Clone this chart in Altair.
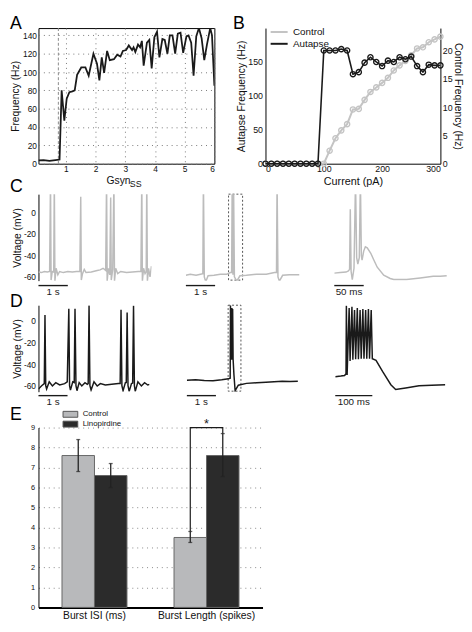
import altair as alt
import pandas as pd

FONT = "Liberation Sans"
INK = "#1a1a1a"
TRACE_GRAY = "#bcbcbc"
CTRL_GRAY = "#c4c4c4"

# ---------------- Panel A : frequency vs Gsyn_SS ----------------
gsyn_ss = [0.08, 0.25, 0.45, 0.65, 0.79, 0.86, 0.95, 1.03, 1.12, 1.22, 1.30, 1.38, 1.52, 1.66,
           1.77, 1.93, 2.05, 2.13, 2.21, 2.29, 2.39, 2.48, 2.62, 2.73, 2.84, 2.92, 3.03, 3.12,
           3.23, 3.28, 3.34, 3.43, 3.50, 3.56, 3.62, 3.73, 3.81, 3.89, 3.98, 4.07, 4.15, 4.25,
           4.33, 4.42, 4.50, 4.59, 4.68, 4.77, 4.86, 4.95, 5.06, 5.13, 5.22, 5.30, 5.39, 5.48,
           5.57, 5.66, 5.75, 5.86, 5.92, 6.00]
freq_hz = [3.5, 4, 3, 4, 4.5, 80, 47, 71, 78, 79, 80, 97, 105, 105,
           96, 120, 109, 91, 116, 99, 123, 113, 114, 119, 117, 123, 124, 129,
           124, 127, 122, 130, 127, 134, 107, 132, 135, 104, 138, 144, 116, 136,
           135, 120, 140, 140, 120, 142, 143, 121, 139, 140, 132, 96, 139, 148,
           137, 113, 130, 148, 140, 85]
gsyn_threshold = [0.75]

# ---------------- Panel B : frequency vs current ----------------
current_pa = [0, 10, 20, 30, 40, 50, 60, 70, 80, 90, 100, 110, 120, 130, 140, 150, 160,
              170, 180, 190, 200, 210, 220, 230, 240, 250, 260, 270, 280, 290, 300]
autapse_hz = [0, 0, 0, 0, 0, 0, 0, 0, 0, 0, 167, 167, 167, 169, 167, 132, 135,
              149, 157, 150, 144, 152, 150, 157, 154, 158, 144, 135, 146, 145, 145]
control_hz = [0, 0, 0, 0, 0, 0, 0, 0, 0, 0, 0, 2.3, 4.5, 5.9, 7.0, 9.6, 9.7,
              11.3, 12.7, 13.5, 14.3, 15.2, 16.5, 17.4, 18.2, 19.2, 20.4, 20.6, 21.5, 22.0, 22.5]

# ---------------- Panel C : control voltage traces ----------------
c1_t = [0.00, 0.10, 0.20, 0.30, 0.38, 0.41, 0.43, 0.47, 0.52, 0.54, 0.56, 0.60, 0.66, 0.72, 0.85,
        1.00, 1.15, 1.30, 1.41, 1.44, 1.46, 1.50, 1.56, 1.62, 1.80, 2.00, 2.10, 2.20, 2.29, 2.32,
        2.34, 2.38, 2.43, 2.46, 2.48, 2.53, 2.57, 2.59, 2.63, 2.70, 2.80, 3.00, 3.20, 3.40, 3.49,
        3.52, 3.54, 3.58, 3.63, 3.67, 3.69, 3.71, 3.75, 3.80, 3.85]
c1_v = [-55.5, -56, -55, -55.5, -55, 30, -63, -55, -55.5, 30, -64, -52, -58, -55, -56,
        -55, -55.5, -55, -55, 14.5, -63, -57, -53, -56, -55.5, -54, -53.5, -52, -54, 30,
        -64, -52, -58, 14, -63, -53, 30, -64, -52, -57, -55, -56, -55.5, -55, -55,
        30, -64, -52, -57, -55, 30, -64, -52, -60, -50]
c2_t = [0.00, 0.15, 0.35, 0.50, 0.58, 0.60, 0.63, 0.68, 0.76, 0.96, 1.18, 1.40, 1.52, 1.565, 1.585,
        1.61, 1.63, 1.66, 1.74, 1.85, 2.07, 2.41, 2.75, 3.03, 3.10, 3.12, 3.15, 3.20, 3.31, 3.54, 3.88]
c2_v = [-58.5, -57.5, -58.5, -57.5, -57, 30, -60, -64.5, -59, -58.5, -57.5, -57.5, -56, -56, 30,
        -58, 30, -60, -64, -59, -58.5, -57.5, -57.5, -56, -56, 30, -60, -64, -58.5, -58, -58]
c2_box_t = [1.46, 1.94]
c3_t = [0, 10, 20, 24, 26, 27.2, 28.6, 30.6, 33.5, 36.1, 38, 40, 42.5, 44.4, 46,
        47.2, 50, 52.8, 56, 62, 67, 73, 84, 95, 101, 123, 146, 168, 180, 191]
c3_v = [-56.5, -56, -55.5, -54.5, -53, 3, -55, -62.5, -52, 30, -42, -48, -42, 30, -40,
        -44.5, -36, -32, -33, -38, -44, -51, -58.5, -61.5, -62.5, -62.5, -61, -59.5, -59.5, -59]

# ---------------- Panel D : autapse voltage traces ----------------
d1_t = [0.00, 0.11, 0.20, 0.224, 0.25, 0.28, 0.37, 0.48, 0.595, 0.73, 0.90, 0.99, 1.044, 1.07, 1.10,
        1.18, 1.23, 1.257, 1.29, 1.325, 1.40, 1.49, 1.60, 1.68, 1.71, 1.74, 1.77, 1.81, 1.91, 2.02,
        2.13, 2.30, 2.52, 2.75, 2.81, 2.84, 2.87, 2.91, 2.99, 3.02, 3.05, 3.08, 3.12, 3.20, 3.24,
        3.27, 3.30, 3.33, 3.42, 3.54, 3.65, 3.76, 3.82]
d1_v = [-63, -60, -58, 5.4, -60, -63, -56.3, -60.2, -57.1, -59.3, -58, -56.3, 11.3, -60, -64,
        -56.3, -57, 11.3, -60, -64.6, -57.1, -60.2, -57.1, -58.7, -58, 14.3, -60, -64, -56.3, -60.2,
        -58, -59.3, -58.7, -58, -58, 10.4, -60, -64.6, -57.1, -57, 7.7, -60, -65.2, -58, -57.5,
        14, -60, -65.2, -56.3, -60.2, -57.1, -59.3, -58.7]
d2_t = [0.00, 0.30, 0.60, 0.90, 1.20, 1.43, 1.49, 1.50, 1.515, 1.525, 1.54, 1.55, 1.565, 1.575, 1.59,
        1.62, 1.66, 1.77, 2.05, 2.40, 2.72, 3.00, 3.28, 3.55, 3.82]
d2_v = [-55, -54.5, -55.2, -55.4, -54.5, -53.6, -53, 14.5, -36, 12, -36, 12, -36, 11, -35,
        -50, -64.6, -59.5, -57.8, -57.2, -56.7, -56.3, -55.9, -56, -55.9]
d2_box_t = [1.42, 1.86]
d3_t = [0, 15, 25, 29, 30, 32, 37.5, 40, 45, 47.5, 52, 55, 59.5, 62.5, 67, 70, 74.5, 77.5, 82, 85,
        89.5, 92.5, 97, 100, 110, 128, 150, 163, 190, 226, 260, 297]
d3_v = [-51.6, -51, -50.5, -49, 14, -50, 12, -37, 13, -36, 10, -35.5, 12, -35.5, 10, -35, 11, -35, 10, -35,
        11, -35, 10, -35, -36.5, -47, -59, -63.5, -62, -60, -59.5, -59]

# ---------------- Panel E : burst statistics ----------------
measures = ["Burst ISI (ms)", "Burst ISI (ms)", "Burst Length (spikes)", "Burst Length (spikes)"]
groups = ["Control", "Linopirdine", "Control", "Linopirdine"]
means = [7.6, 6.6, 3.5, 7.6]
err_lo = [6.8, 6.0, 3.25, 6.55]
err_hi = [8.4, 7.2, 3.8, 8.7]
bracket_group = ["Control", "Control", "Linopirdine", "Linopirdine"]
bracket_y = [3.8, 9.0, 9.0, 8.7]
star_y = [9.0]

C_DOMAIN = [-63.5, 17]
D_DOMAIN = [-65.5, 14.5]


def letter(text, dx, dy):
    return alt.Chart(pd.DataFrame({"l": [text]})).mark_text(
        fontSize=18, align="left", baseline="alphabetic", color="black").encode(
        text="l:N", x=alt.value(dx), y=alt.value(dy))


# ---- A ----
HA = 138
dfA = pd.DataFrame({"g": gsyn_ss, "f": freq_hz})
xA = alt.X("g:Q", scale=alt.Scale(domain=[0.08, 6], nice=False, zero=False),
           axis=alt.Axis(values=[1, 2, 3, 4, 5, 6], title="Gsyn", titleFontSize=10.5, titleX=81,
                         titleY=20, titleBaseline="alphabetic", titleAlign="center", titleAnchor="start",
                         labelFontSize=8.5, labelPadding=1, grid=True, gridDash=[1, 4], gridColor="#777",
                         domain=False, ticks=False))
yA = alt.Y("f:Q", scale=alt.Scale(domain=[0, 148], nice=False),
           axis=alt.Axis(values=[0, 20, 40, 60, 80, 100, 120, 140], title="Frequency (Hz)",
                         titleFontSize=10.5, titlePadding=2, labelFontSize=8.5, labelPadding=2,
                         grid=True, gridDash=[1, 4], gridColor="#777", domain=False, ticks=False))
thrA = alt.Chart(pd.DataFrame({"g": gsyn_threshold})).mark_rule(
    color="#8a8a8a", strokeDash=[3, 2], strokeWidth=1).encode(x=xA)
lineA = alt.Chart(dfA).mark_line(color=INK, strokeWidth=1.8, clip=True).encode(x=xA, y=yA)
subA = alt.Chart(pd.DataFrame({"s": ["SS"]})).mark_text(
    fontSize=9, align="left", baseline="alphabetic", color="#111").encode(
    text="s:N", x=alt.value(93), y=alt.value(HA + 24))
A = alt.layer(thrA, lineA, subA, letter("A", -29, 1)).properties(
    width=179, height=HA, view=alt.ViewBackground(stroke="black", strokeWidth=1))

# ---- B ----
dfBc = pd.DataFrame({"current": current_pa, "hz": control_hz, "series": ["Control"] * len(current_pa)})
dfBa = pd.DataFrame({"current": current_pa, "hz": autapse_hz, "series": ["Autapse"] * len(current_pa)})
xB = alt.X("current:Q", scale=alt.Scale(domain=[0, 300], nice=False),
           axis=alt.Axis(values=[0, 100, 200, 300], title="Current (pA)", titleFontSize=11,
                         titleY=21, titleBaseline="alphabetic", labelFontSize=9, labelPadding=1,
                         ticks=False, grid=False))
colB = alt.Color("series:N", scale=alt.Scale(domain=["Control", "Autapse"], range=[CTRL_GRAY, INK]),
                 legend=alt.Legend(title=None, orient="none", legendX=8.9, legendY=-1,
                                   symbolType="M-5,0H5", symbolSize=12, symbolStrokeWidth=2,
                                   labelFontSize=10, labelOffset=9, rowPadding=2))
yBc = alt.Y("hz:Q", scale=alt.Scale(domain=[0, 24], nice=False),
            axis=alt.Axis(orient="right", values=[0, 5, 10, 15, 20], title="Control Frequency (Hz)",
                          titleFontSize=10.5, titlePadding=0, labelFontSize=9, labelPadding=2,
                          ticks=False, grid=False))
yBa = alt.Y("hz:Q", scale=alt.Scale(domain=[0, 200], nice=False),
            axis=alt.Axis(orient="left", values=[0, 50, 100, 150], title="Autapse Frequency (Hz)",
                          titleFontSize=10.5, titlePadding=1, labelFontSize=9, labelPadding=3,
                          ticks=False, grid=False))
ctrlB = alt.layer(
    alt.Chart(dfBc).mark_line(strokeWidth=2).encode(x=xB, y=yBc, color=colB),
    alt.Chart(dfBc).mark_point(filled=False, size=28, strokeWidth=1.4, opacity=1).encode(x=xB, y=yBc, color=colB),
)
autB = alt.layer(
    alt.Chart(dfBa).mark_line(strokeWidth=1.6).encode(x=xB, y=yBa, color=colB),
    alt.Chart(dfBa).mark_point(filled=False, size=28, strokeWidth=1.4, opacity=1).encode(x=xB, y=yBa, color=colB),
    letter("B", -33, 1),
)
B = alt.layer(ctrlB, autB).resolve_scale(y="independent").properties(width=178, height=HA)


# ---- traces ----
def trace(t, v, t_dom, width, v_dom, color, bar_len, bar_label, bar_y, lab_y,
          let=None, let_dy=0, axis=False, box_t=None):
    h = 88
    xs = alt.Scale(domain=t_dom, nice=False, zero=False)
    ys = alt.Scale(domain=v_dom, nice=False, zero=False)
    if axis:
        yax = alt.Axis(values=[0, -20, -40, -60], title="Voltage (mV)", titleFontSize=10.5,
                       titlePadding=1, labelFontSize=8.5, labelPadding=3, labelExpr="'' + datum.value",
                       ticks=False, grid=False)
    else:
        yax = None
    df = pd.DataFrame({"t": t, "v": v})
    layers = []
    if box_t is not None:
        bdf = pd.DataFrame({"b0": [box_t[0]], "b1": [box_t[1]], "v0": [v_dom[0] + 0.5], "v1": [v_dom[1]]})
        layers.append(alt.Chart(bdf).mark_rect(fillOpacity=0, stroke="#555", strokeDash=[2, 2], strokeWidth=1).encode(
            x=alt.X("b0:Q", scale=xs, axis=None), x2="b1:Q",
            y=alt.Y("v0:Q", scale=ys, axis=None), y2="v1:Q"))
    layers.append(alt.Chart(df).mark_line(color=color, strokeWidth=1.5, clip=True).encode(
        x=alt.X("t:Q", scale=xs, axis=None), y=alt.Y("v:Q", scale=ys, axis=yax)))
    sdf = pd.DataFrame({"t0": [0], "t1": [bar_len], "tm": [bar_len / 2], "lab": [bar_label]})
    layers.append(alt.Chart(sdf).mark_rule(color=INK, strokeWidth=1.4).encode(
        x=alt.X("t0:Q", scale=xs, axis=None), x2="t1:Q", y=alt.value(h + bar_y)))
    layers.append(alt.Chart(sdf).mark_text(fontSize=10, baseline="top", color=INK).encode(
        x=alt.X("tm:Q", scale=xs, axis=None), y=alt.value(h + lab_y), text="lab:N"))
    if let is not None:
        layers.append(letter(let, -29, let_dy))
    return alt.layer(*layers).properties(width=width, height=h)


C1 = trace(c1_t, c1_v, [0, 3.85], 115, C_DOMAIN, TRACE_GRAY, 1, "1 s", 5, 7, "C", -1.7, True)
C2 = trace(c2_t, c2_v, [0, 3.9], 116, C_DOMAIN, TRACE_GRAY, 1, "1 s", 5, 7, box_t=c2_box_t)
C3 = trace(c3_t, c3_v, [0, 192], 115, C_DOMAIN, TRACE_GRAY, 50, "50 ms", 5, 7)
D1 = trace(d1_t, d1_v, [0, 3.82], 113, D_DOMAIN, INK, 1, "1 s", 4, 5.5, "D", 2, True)
D2 = trace(d2_t, d2_v, [0, 3.82], 113, D_DOMAIN, INK, 1, "1 s", 4, 5.5, box_t=d2_box_t)
D3 = trace(d3_t, d3_v, [0, 297], 112, D_DOMAIN, INK, 100, "100 ms", 4, 5.5)

# ---- E ----
HE = 183
dfE = pd.DataFrame({"measure": measures, "group": groups, "mean": means, "lo": err_lo, "hi": err_hi})
dfBr = pd.DataFrame({"measure": [measures[2]] * 4, "group": bracket_group, "y": bracket_y, "o": [0, 1, 2, 3]})
dfSt = pd.DataFrame({"measure": [measures[2]], "y": star_y, "s": ["*"]})
cats = ["Burst ISI (ms)", "Burst Length (spikes)"]
xE = alt.X("measure:N", scale=alt.Scale(domain=cats, paddingInner=0.42, paddingOuter=0.21),
           axis=alt.Axis(title=None, labelAngle=0, labelFontSize=10.5, labelPadding=3, domainWidth=2,
                         ticks=False, grid=False))
xoE = alt.XOffset("group:N", scale=alt.Scale(domain=["Control", "Linopirdine"], paddingInner=0, paddingOuter=0))
ysE = alt.Scale(domain=[0, 9], nice=False)
axE = alt.Axis(values=[0, 1, 2, 3, 4, 5, 6, 7, 8, 9], title=None, grid=True, gridDash=[1, 4],
               gridColor="#888", gridWidth=1, labelFontSize=7.5, labelPadding=4, ticks=False,
               domainColor="black")
colE = alt.Color("group:N", scale=alt.Scale(domain=["Control", "Linopirdine"], range=["#b8b9bb", "#2b2b2b"]),
                 legend=alt.Legend(title=None, orient="none", legendX=28.5, legendY=-17.5,
                                   symbolType="M-2.5,-1H2.5V1H-2.5Z", symbolSize=36, symbolStrokeColor="#555",
                                   symbolStrokeWidth=1, labelFontSize=8, labelOffset=8.5, rowPadding=0))
barsE = alt.Chart(dfE).mark_bar(stroke="#666", strokeWidth=1).encode(
    x=xE, xOffset=xoE, y=alt.Y("mean:Q", scale=ysE, axis=axE), color=colE)
errE = alt.Chart(dfE).mark_rule(color="#222", strokeWidth=1.3).encode(
    x=xE, xOffset=xoE, y=alt.Y("lo:Q", scale=ysE, axis=axE), y2="hi:Q")
capLo = alt.Chart(dfE).mark_tick(color="#222", thickness=1.3, size=4, orient="horizontal").encode(
    x=xE, xOffset=xoE, y=alt.Y("lo:Q", scale=ysE, axis=axE))
capHi = alt.Chart(dfE).mark_tick(color="#222", thickness=1.3, size=4, orient="horizontal").encode(
    x=xE, xOffset=xoE, y=alt.Y("hi:Q", scale=ysE, axis=axE))
brE = alt.Chart(dfBr).mark_line(color=INK, strokeWidth=1.2).encode(
    x=xE, xOffset=xoE, y=alt.Y("y:Q", scale=ysE, axis=axE), order="o:Q")
starE = alt.Chart(dfSt).mark_text(fontSize=13, baseline="alphabetic", color=INK).encode(
    x=xE, y=alt.Y("y:Q", scale=ysE, axis=axE), text="s:N")
E = alt.layer(barsE, errE, capLo, capHi, brE, starE, letter("E", -29, -8)).properties(
    width=228, height=HE)

rowAB = alt.hconcat(A, B, spacing=52, bounds="flush").resolve_scale(color="independent")
rowC = alt.hconcat(C1, C2, C3, spacing=35, bounds="flush")
rowD = alt.hconcat(D1, D2, D3, spacing=38, bounds="flush")

top = alt.vconcat(rowAB, rowC, spacing=-12).resolve_scale(color="independent")
bottom = alt.vconcat(rowD, E, spacing=-1.5).resolve_scale(color="independent")
chart = alt.vconcat(top, bottom, spacing=-4).resolve_scale(color="independent").properties(
    padding=1
).configure(font=FONT).configure_view(stroke=None).configure_axis(
    labelFont=FONT, titleFont=FONT, domainColor="black", labelColor="#111", titleColor="#111",
    titleFontWeight="normal"
).configure_legend(labelFont=FONT, labelColor="#111").configure_title(font=FONT)

chart.save("out.html", embed_options={"renderer": "svg", "actions": False})
